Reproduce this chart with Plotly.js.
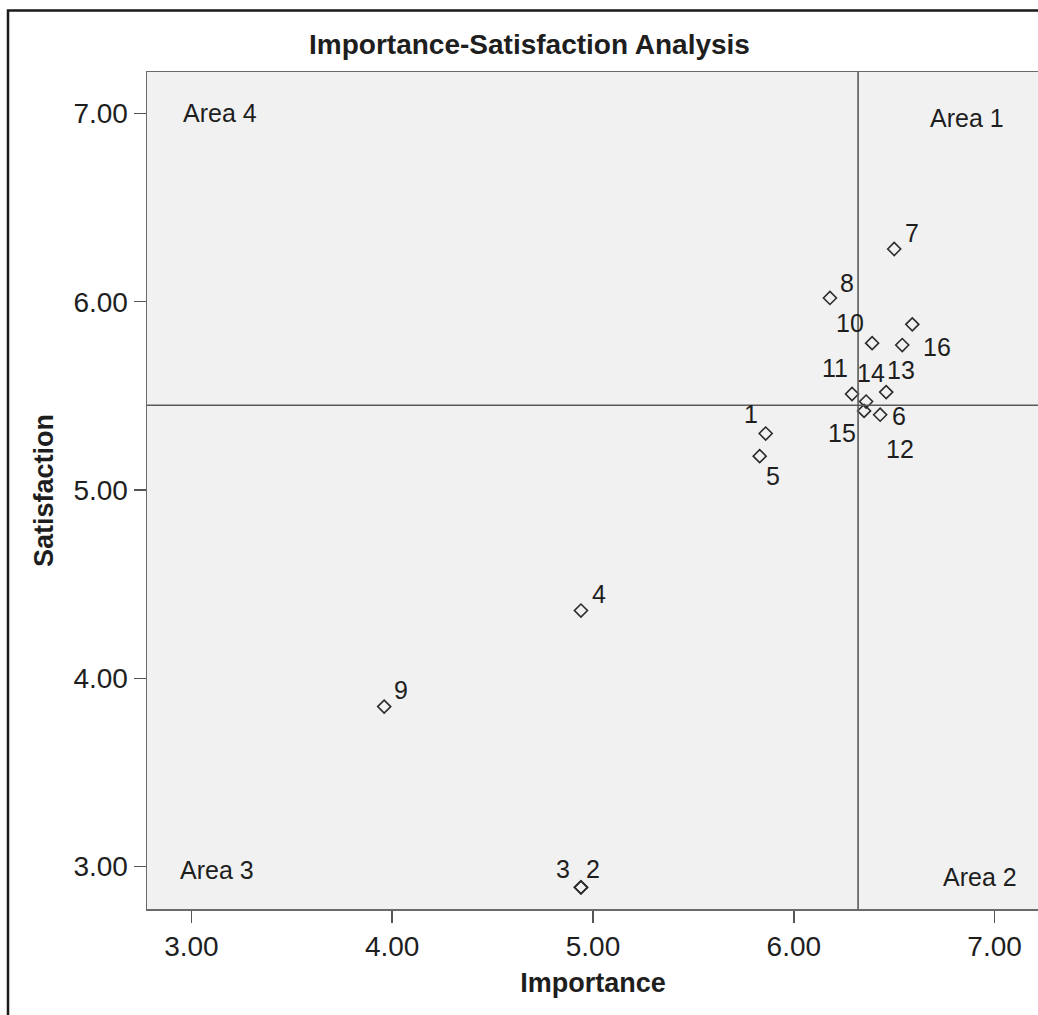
<!DOCTYPE html>
<html>
<head>
<meta charset="utf-8">
<script src="https://cdn.plot.ly/plotly-3.0.1.min.js"></script>
<style>
  html, body { margin: 0; padding: 0; background: #ffffff; overflow: hidden; }
  #chart { width: 1045px; height: 1015px; }
</style>
</head>
<body>
<div id="chart"></div>
<script>
// ---- data ----
const pointLabels = ["1","2","3","4","5","6","7","8","9","10","11","12","13","14","15","16"];
const importance   = [5.86, 4.94, 4.94, 4.94, 5.83, 6.43, 6.50, 6.18, 3.96, 6.39, 6.29, 6.36, 6.54, 6.46, 6.35, 6.59];
const satisfaction = [5.30, 2.89, 2.89, 4.36, 5.18, 5.40, 6.28, 6.02, 3.85, 5.78, 5.51, 5.47, 5.77, 5.52, 5.42, 5.88];
const meanImportance = 6.32;
const meanSatisfaction = 5.45;
const xTicks = [3, 4, 5, 6, 7];
const yTicks = [3, 4, 5, 6, 7];
const areaNames = ["Area 1", "Area 2", "Area 3", "Area 4"];

// ---- label placement (pixel offsets of each point label, style only) ----
const labelDx = [-15, 12, -18, 18, 13, 19, 18, 17, 17, -22, -17, 34, -1, -15, -22, 25];
const labelDy = [-20, -18, -18, -17, 20, 1, -16, -15, -17, -20, -26, 47, 25, -19, 22, 23];
const areaPos = [[6.864, 6.974], [6.925, 2.946], [3.127, 2.982], [3.143, 7.0]];

const FONT = "Liberation Sans, Arial, sans-serif";
const TXT = "#1e1e1e";

const trace = {
  type: "scatter",
  mode: "markers",
  x: importance,
  y: satisfaction,
  text: pointLabels,
  hoverinfo: "text",
  marker: { symbol: "diamond-open", size: 10, color: "#2a2a2a", line: { width: 1.6, color: "#2a2a2a" } },
  showlegend: false
};

const annotations = [];
pointLabels.forEach((lab, i) => {
  annotations.push({
    x: importance[i], y: satisfaction[i], xref: "x", yref: "y",
    text: lab, showarrow: false, xanchor: "center", yanchor: "middle",
    xshift: labelDx[i], yshift: -labelDy[i],
    font: { family: FONT, size: 25, color: TXT }
  });
});
areaNames.forEach((nm, i) => {
  annotations.push({
    x: areaPos[i][0], y: areaPos[i][1], xref: "x", yref: "y",
    text: nm, showarrow: false, xanchor: "center", yanchor: "middle",
    font: { family: FONT, size: 25, color: TXT }
  });
});

const W = 1045, H = 1015, ML = 147, MR = 6, MT = 72, MB = 106;
const PW = W - ML - MR, PH = H - MT - MB;

const layout = {
  width: W, height: H,
  margin: { l: ML, r: MR, t: MT, b: MB, pad: 0 },
  paper_bgcolor: "#ffffff",
  plot_bgcolor: "#f1f1f1",
  font: { family: FONT, color: TXT },
  title: {
    text: "<b>Importance-Satisfaction Analysis</b>",
    font: { family: FONT, size: 28, color: TXT },
    xref: "paper", x: (529.5 - ML) / PW, xanchor: "center",
    yref: "container", y: 1 - 44 / H, yanchor: "middle"
  },
  xaxis: {
    range: [2.779, 7.221],
    tickvals: xTicks, tickformat: ".2f",
    ticks: "outside", ticklen: 12, tickwidth: 1.5, tickcolor: "#555",
    tickfont: { family: FONT, size: 28, color: TXT },
    showline: true, mirror: true, linecolor: "#6a6a6a", linewidth: 1.5,
    showgrid: false, zeroline: false,
    title: { text: "<b>Importance</b>", font: { family: FONT, size: 27, color: TXT }, standoff: 12 }
  },
  yaxis: {
    range: [2.775, 7.22],
    tickvals: yTicks, tickformat: ".2f",
    ticks: "outside", ticklen: 12, tickwidth: 1.5, tickcolor: "#555",
    tickfont: { family: FONT, size: 28, color: TXT },
    showline: true, mirror: true, linecolor: "#6a6a6a", linewidth: 1.5,
    showgrid: false, zeroline: false,
    title: { text: "<b>Satisfaction</b>", font: { family: FONT, size: 27, color: TXT }, standoff: 12 }
  },
  shapes: [
    { type: "line", xref: "x", yref: "paper", x0: meanImportance, x1: meanImportance, y0: 0, y1: 1,
      line: { color: "#5a5a5a", width: 1.6 }, layer: "above" },
    { type: "line", xref: "paper", yref: "y", x0: 0, x1: 1, y0: meanSatisfaction, y1: meanSatisfaction,
      line: { color: "#5a5a5a", width: 1.6 }, layer: "above" },
    { type: "rect", xref: "paper", yref: "paper",
      x0: (8 - ML) / PW, x1: 1.3, y0: -0.3, y1: (H - MB - 10.5) / PH,
      line: { color: "#1a1a1a", width: 2.5 }, fillcolor: "rgba(0,0,0,0)", layer: "above" }
  ],
  annotations: annotations
};

Plotly.newPlot("chart", [trace], layout, { staticPlot: true, displayModeBar: false });
</script>
</body>
</html>
